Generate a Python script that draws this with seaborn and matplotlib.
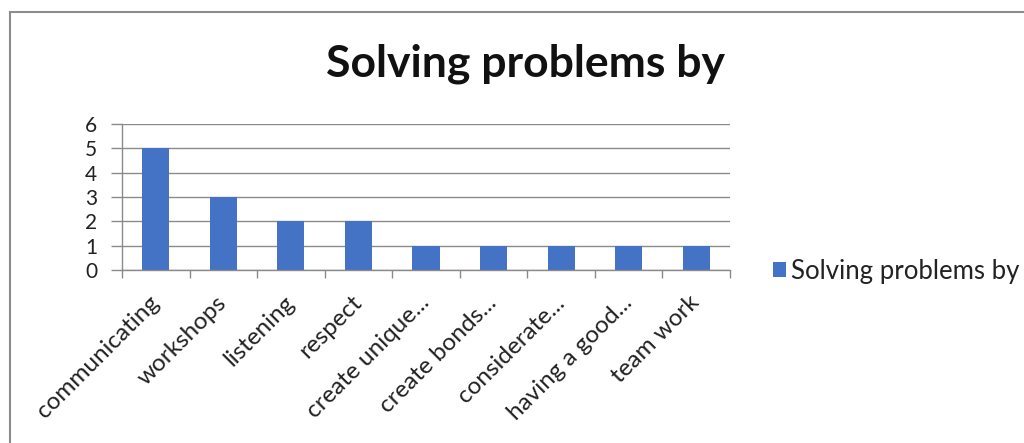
import matplotlib
matplotlib.use("Agg")
import matplotlib.pyplot as plt
import seaborn as sns
import pandas as pd
import numpy as np
from matplotlib.patches import Rectangle
from matplotlib.ticker import FixedLocator

categories = ["communicating", "workshops", "listening", "respect", "create unique...",
              "create bonds...", "considerate...", "having a good...", "team work"]
values = [5, 3, 2, 2, 1, 1, 1, 1, 1]
series_name = "Solving problems by"
y_ticks = [0, 1, 2, 3, 4, 5, 6]

sns.set_style("white")
plt.rcParams["font.family"] = ["Lato", "DejaVu Sans"]

df = pd.DataFrame({"category": categories, "value": values, "series": series_name})

W, H = 1024, 443
fig = plt.figure(figsize=(W / 100, H / 100), dpi=100)
fig.patch.set_facecolor("white")

# outer chart frame
fig.patches.append(Rectangle((10 / W, -0.1), 1.2, (H - 12) / H + 0.1,
                             transform=fig.transFigure, fill=False,
                             edgecolor="#8c8c8c", linewidth=1.5))

ax = fig.add_axes([122 / W, (H - 270) / H, (730 - 122) / W, (270 - 124) / H])
bar_color = "#4472C4"
sns.barplot(data=df, x="category", y="value", hue="series", palette=[bar_color],
            width=0.4, ax=ax, saturation=1, linewidth=0)

ax.set_ylim(0, 6)
ax.set_xlim(-0.5, len(categories) - 0.5)
ax.set_yticks(y_ticks)
ax.yaxis.grid(True, color="#8a8a8a", linewidth=1)
ax.set_axisbelow(True)
ax.set_xlabel("")
ax.set_ylabel("")

for s in ["top", "right"]:
    ax.spines[s].set_visible(False)
for s in ["left", "bottom"]:
    ax.spines[s].set_color("#8a8a8a")
    ax.spines[s].set_linewidth(1)

ax.tick_params(axis="y", length=8, width=1, color="#8a8a8a", labelsize=15,
               labelcolor="#222222", pad=10, left=True)
ax.set_xticks(range(len(categories)))
ax.set_xticklabels(categories, rotation=45, ha="right", va="center",
                   rotation_mode="anchor", fontsize=17.5, color="#222222")
ax.tick_params(axis="x", which="major", length=0, pad=21)
ax.xaxis.set_minor_locator(FixedLocator(np.arange(-0.5, len(categories), 1.0)))
ax.tick_params(axis="x", which="minor", length=6, width=1, color="#8a8a8a", bottom=True)

fig.text(526 / W, 1 - 64 / H, series_name, ha="center", va="center",
         fontsize=32, fontweight="bold", color="#111111")

leg = ax.legend(loc="center left", bbox_to_anchor=(773 / W, 1 - 271 / H),
                bbox_transform=fig.transFigure, frameon=False, fontsize=18.5,
                handlelength=0.5, handleheight=0.5, handletextpad=0.2,
                borderpad=0, borderaxespad=0)
for t in leg.get_texts():
    t.set_color("#222222")

fig.savefig("out.png", dpi=100)
